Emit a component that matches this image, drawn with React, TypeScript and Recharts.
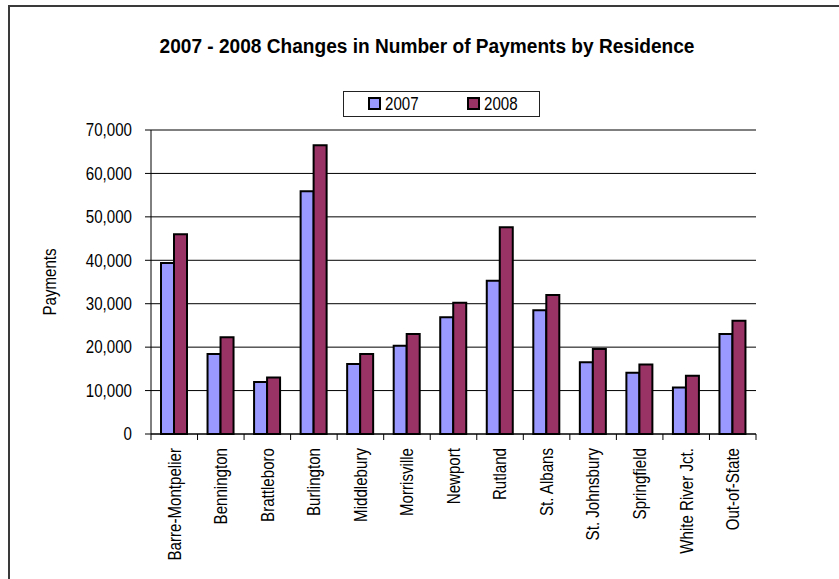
import { Bar, BarChart, CartesianGrid, Label, Legend, XAxis, YAxis } from "recharts";

const regions = [
  "Barre-Montpelier",
  "Bennington",
  "Brattleboro",
  "Burlington",
  "Middlebury",
  "Morrisville",
  "Newport",
  "Rutland",
  "St. Albans",
  "St. Johnsbury",
  "Springfield",
  "White River Jct.",
  "Out-of-State",
];
const payments2007 = [39400, 18400, 12000, 55900, 16100, 20300, 26900, 35300, 28500, 16500, 14100, 10700, 23000];
const payments2008 = [46000, 22300, 13000, 66500, 18400, 23000, 30200, 47600, 32000, 19600, 16000, 13400, 26100];
const yTicks = [0, 10000, 20000, 30000, 40000, 50000, 60000, 70000];

const data = regions.map((region, i) => ({
  region,
  y2007: payments2007[i],
  y2008: payments2008[i],
}));

const W = 839;
const H = 579;
const PLOT_LEFT = 151;
const PLOT_RIGHT = 756;
const PLOT_TOP = 130;
const PLOT_BOTTOM = 434;
const LEGEND_H = 26;
const STEP = (PLOT_RIGHT - PLOT_LEFT) / regions.length;
const FONT = "'Liberation Sans', Arial, sans-serif";
const NARROW = 0.84; // no Arial Narrow installed, squeeze regular glyphs instead

// text squeezed horizontally in its own frame, optionally rotated
function NarrowText({ x, y, rotate = 0, anchor = "middle", size = 18, weight = "normal", sx = NARROW, children }: any) {
  return (
    <text
      transform={`translate(${x}, ${y}) rotate(${rotate}) scale(${sx}, 1)`}
      dy="0.35em"
      textAnchor={anchor}
      fontFamily={FONT}
      fontSize={size}
      fontWeight={weight}
      fill="#000"
    >
      {children}
    </text>
  );
}

function RegionTick(props: any) {
  const { x, y, payload, index } = props;
  const axisY = y - 14;
  const last = index === regions.length - 1;
  return (
    <g>
      <line x1={x - STEP / 2} x2={x - STEP / 2} y1={axisY} y2={axisY + 6} stroke="#000" />
      {last && <line x1={x + STEP / 2} x2={x + STEP / 2} y1={axisY} y2={axisY + 6} stroke="#000" />}
      <NarrowText x={x} y={y} rotate={-90} anchor="end">
        {payload.value}
      </NarrowText>
    </g>
  );
}

function ValueTick(props: any) {
  const { x, y, payload } = props;
  return (
    <NarrowText x={x} y={y} anchor="end">
      {payload.value.toLocaleString("en-US")}
    </NarrowText>
  );
}

function LegendBox({ payload }: any) {
  const items = payload || [];
  return (
    <svg width={197} height={LEGEND_H} style={{ display: "block" }}>
      <rect x={0.5} y={0.5} width={196} height={LEGEND_H - 1} fill="#fff" stroke="#222" />
      {items.map((p: any, i: number) => (
        <g key={p.value} transform={`translate(${25 + i * 99}, 0)`}>
          <rect x={1} y={7} width={11} height={11} fill={p.color} stroke="#000" strokeWidth={2} />
          <NarrowText x={17} y={13} anchor="start">
            {p.value}
          </NarrowText>
        </g>
      ))}
    </svg>
  );
}

export default function App() {
  return (
    <div style={{ position: "absolute", left: 0, top: 0, width: W, height: H, background: "#fff" }}>
      <BarChart
        width={W}
        height={H}
        data={data}
        margin={{ top: PLOT_TOP, right: W - PLOT_RIGHT, left: 0, bottom: 0 }}
        barGap={0}
        barSize={13}
      >
        <CartesianGrid vertical={false} stroke="#000" />
        <XAxis
          dataKey="region"
          height={H - PLOT_BOTTOM - LEGEND_H}
          interval={0}
          axisLine={{ stroke: "#000" }}
          tickLine={false}
          tickSize={6}
          tickMargin={8}
          tick={<RegionTick />}
        />
        <YAxis
          width={PLOT_LEFT}
          domain={[0, 70000]}
          ticks={yTicks}
          interval={0}
          axisLine={{ stroke: "#000" }}
          tickLine={{ stroke: "#000" }}
          tickSize={6}
          tickMargin={13}
          tick={<ValueTick />}
        >
          <Label
            content={({ viewBox }: any) => (
              <NarrowText x={50} y={viewBox.y + viewBox.height / 2} rotate={-90}>
                Payments
              </NarrowText>
            )}
          />
        </YAxis>
        <YAxis yAxisId="frame" orientation="right" width={0} tick={false} tickLine={false} axisLine={{ stroke: "#808080" }} />
        <Legend
          content={<LegendBox />}
          wrapperStyle={{ position: "absolute", left: 343, top: 91, width: 197, height: LEGEND_H }}
        />
        <Bar dataKey="y2007" name="2007" fill="#9999ff" stroke="#000" strokeWidth={2} isAnimationActive={false} />
        <Bar dataKey="y2008" name="2008" fill="#993366" stroke="#000" strokeWidth={2} isAnimationActive={false} />
      </BarChart>
      <svg width={W} height={H} style={{ position: "absolute", left: 0, top: 0, pointerEvents: "none" }}>
        <path d={`M9 ${H} V6 H${W}`} fill="none" stroke="#3a3a3a" strokeWidth={2} />
        <NarrowText x={427} y={46} size={21} weight="bold" sx={0.91}>
          2007 - 2008 Changes in Number of Payments by Residence
        </NarrowText>
      </svg>
    </div>
  );
}
